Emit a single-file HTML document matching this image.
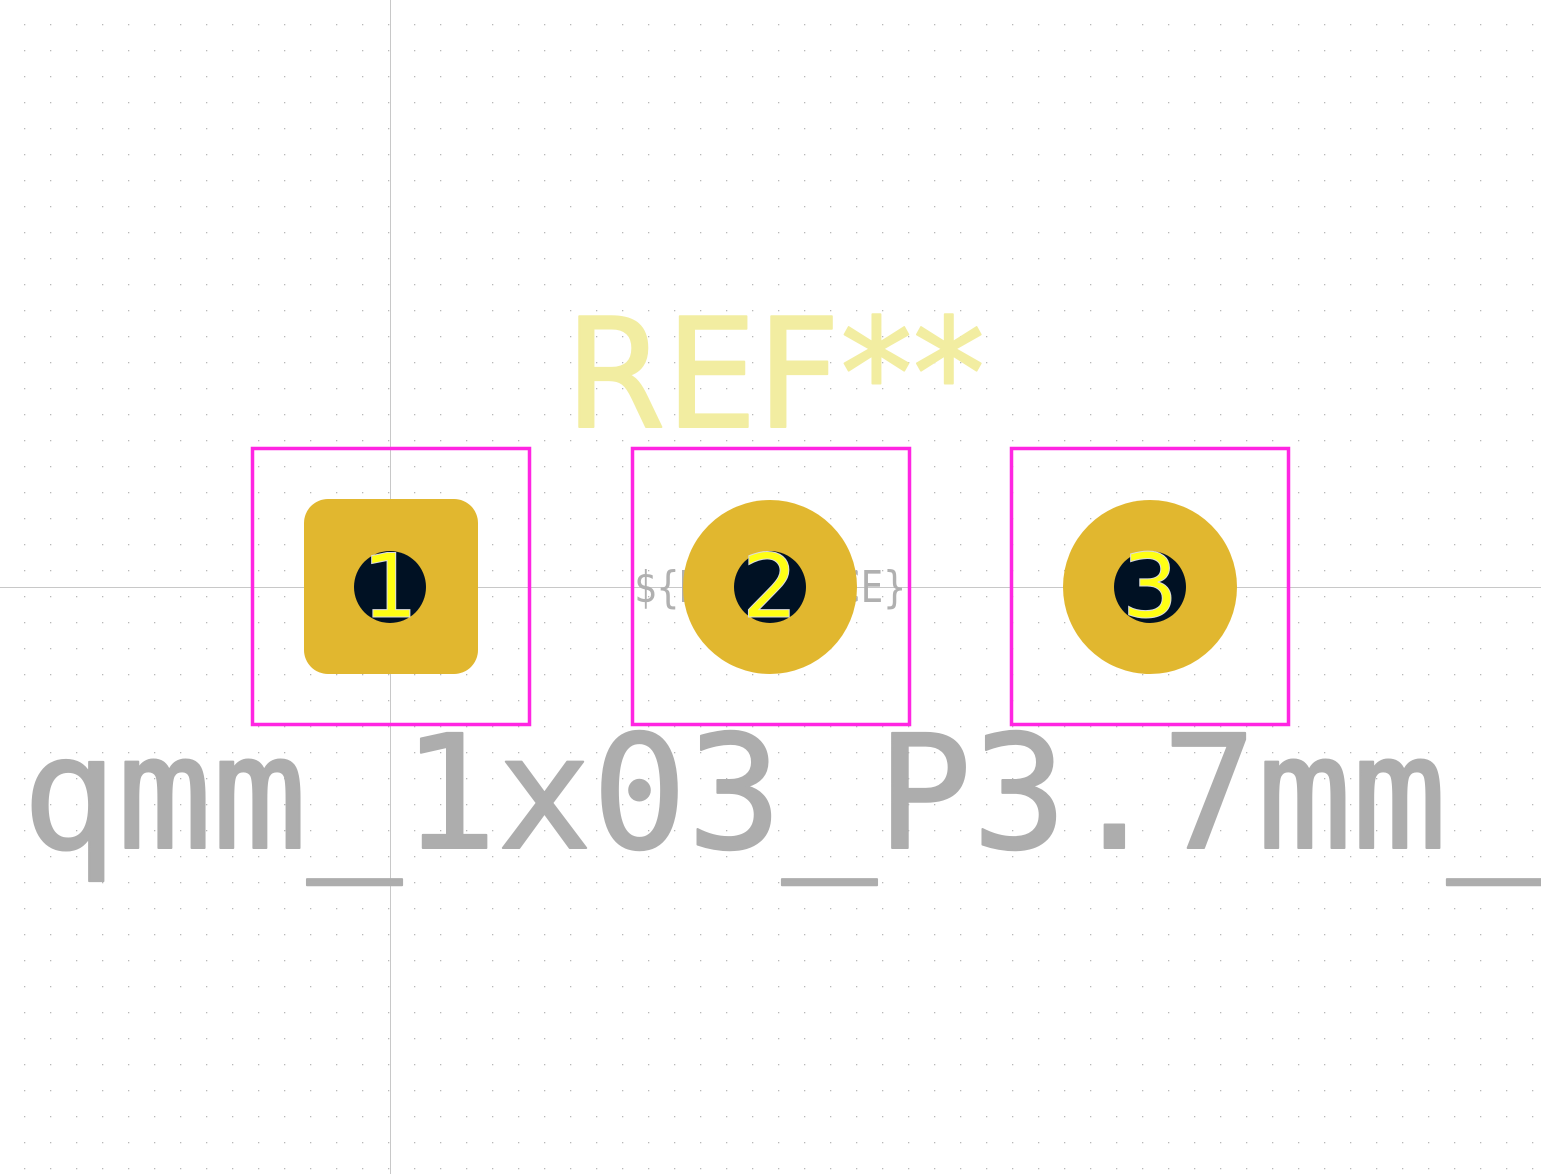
<!DOCTYPE html>
<html><head><meta charset="utf-8"><style>
html,body{margin:0;padding:0;background:#fff;}
svg{display:block;}
</style></head><body>
<svg width="1541" height="1174" viewBox="0 0 1541 1174" xmlns="http://www.w3.org/2000/svg">
<defs>
<pattern id="grid" x="0" y="0" width="26" height="26" patternUnits="userSpaceOnUse" patternTransform="translate(-2,-2)">
<rect x="0" y="0" width="1.3" height="1.3" fill="#b8b8b8"/>
</pattern>
</defs>
<rect width="1541" height="1174" fill="#fff"/>
<rect width="1541" height="1174" fill="url(#grid)"/>
<line x1="390.5" y1="0" x2="390.5" y2="1174" stroke="#c8c8c8" stroke-width="1"/>
<line x1="0" y1="587.5" x2="1541" y2="587.5" stroke="#c8c8c8" stroke-width="1"/>

<text x="770" y="602" text-anchor="middle" font-family="DejaVu Sans Mono, monospace" font-size="44" fill="#b0b0b0" textLength="272" lengthAdjust="spacingAndGlyphs">${REFERENCE}</text>

<text x="565" y="427" font-family="DejaVu Sans, sans-serif" font-size="152" fill="#f2eda1" stroke="#f2eda1" stroke-width="2" stroke-linejoin="round" textLength="420" lengthAdjust="spacingAndGlyphs">REF**</text>

<g>
<rect x="252.5" y="448.5" width="277" height="276" fill="none" stroke="#ff26e2" stroke-width="3.5"/>
<rect x="632.5" y="448.5" width="277" height="276" fill="none" stroke="#ff26e2" stroke-width="3.5"/>
<rect x="1011.5" y="448.5" width="277" height="276" fill="none" stroke="#ff26e2" stroke-width="3.5"/>
</g>

<g>
<rect x="304" y="499" width="174" height="175" rx="24" fill="#e1b72f"/>
<circle cx="390" cy="587" r="36" fill="#001123"/>
<text x="390" y="617" text-anchor="middle" font-family="DejaVu Sans, sans-serif" font-size="88" fill="#ffff14" stroke="#dcdcdc" stroke-width="1">1</text>
</g>
<g>
<circle cx="770" cy="587" r="87" fill="#e1b72f"/>
<circle cx="770" cy="587" r="36" fill="#001123"/>
<text x="770" y="617" text-anchor="middle" font-family="DejaVu Sans, sans-serif" font-size="88" fill="#ffff14" stroke="#dcdcdc" stroke-width="1">2</text>
</g>
<g>
<circle cx="1150" cy="587" r="87" fill="#e1b72f"/>
<circle cx="1150" cy="587" r="36" fill="#001123"/>
<text x="1150" y="617" text-anchor="middle" font-family="DejaVu Sans, sans-serif" font-size="88" fill="#ffff14" stroke="#dcdcdc" stroke-width="1">3</text>
</g>

<text x="22" y="848" font-family="DejaVu Sans Mono, monospace" font-size="158" fill="#adadad" stroke="#adadad" stroke-width="2" stroke-linejoin="round" textLength="1520" lengthAdjust="spacing">qmm_1x03_P3.7mm_</text>
</svg>
</body></html>
